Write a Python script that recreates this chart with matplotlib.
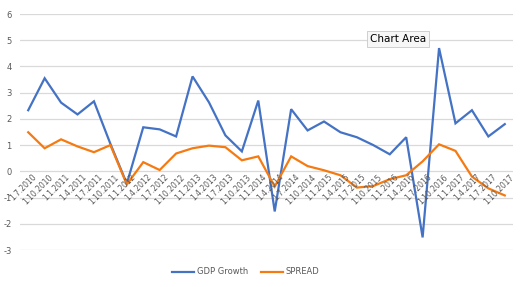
import matplotlib.pyplot as plt
from matplotlib.lines import Line2D

# Dati (trimestri dal 1.7.2010 al 1.10.2017)
dates = ['1.7.2010', '1.10.2010',
         '1.1.2011', '1.4.2011', '1.7.2011', '1.10.2011',
         '1.1.2012', '1.4.2012', '1.7.2012', '1.10.2012',
         '1.1.2013', '1.4.2013', '1.7.2013', '1.10.2013',
         '1.1.2014', '1.4.2014', '1.7.2014', '1.10.2014',
         '1.1.2015', '1.4.2015', '1.7.2015', '1.10.2015',
         '1.1.2016', '1.4.2016', '1.7.2016', '1.10.2016',
         '1.1.2017', '1.4.2017', '1.7.2017', '1.10.2017']
gdp_growth = [2.33, 3.55, 2.62, 2.17, 2.67, 1.05,
              -0.47, 1.68, 1.60, 1.33,
              3.62, 2.63, 1.37, 0.76,
              2.70, -1.53, 2.37, 1.56,
              1.90, 1.49, 1.30, 1.00,
              0.65, 1.30, -2.52, 4.70,
              1.83, 2.33, 1.33, 1.80]
spread = [1.49, 0.88, 1.22, 0.95, 0.73, 1.00,
          -0.50, 0.35, 0.05, 0.68,
          0.88, 0.98, 0.92, 0.42,
          0.57, -0.58, 0.57, 0.20,
          0.04, -0.15, -0.62, -0.56,
          -0.30, -0.15, 0.38, 1.03,
          0.78, -0.20, -0.65, -0.92]
y_ticks = [-3, -2, -1, 0, 1, 2, 3, 4, 5, 6]

blue = '#4472C4'
orange = '#F57A12'
grey = '#595959'

fig = plt.figure(figsize=(5.23, 2.87), dpi=100)
ax = fig.add_axes([20 / 523, 1 - 250 / 287, 493 / 523, 236 / 287])

x = range(len(dates))
ax.plot(x, gdp_growth, color=blue, lw=1.6, solid_joinstyle='miter')
ax.plot(x, spread, color=orange, lw=1.6, solid_joinstyle='miter')

ax.set_xlim(-0.5, len(dates) - 0.5)
ax.set_ylim(-3, 6)
ax.set_yticks(y_ticks)
ax.set_yticklabels([str(t) for t in y_ticks])
ax.tick_params(axis='y', length=0, labelsize=6, labelcolor=grey, pad=6)
ax.set_xticks([])
ax.grid(axis='y', color='#D9D9D9', lw=0.9)
ax.set_axisbelow(True)
for s in ax.spines.values():
    s.set_visible(False)

# etichette delle date ruotate, appese alla linea dello zero
for i, d in enumerate(dates):
    ax.text(i + 0.25, -0.05, d, rotation=45, ha='right', va='top',
            fontsize=5.5, color=grey, rotation_mode='anchor')

# legenda in basso al centro
handles = [Line2D([], [], color=blue, lw=1.6), Line2D([], [], color=orange, lw=1.6)]
fig.legend(handles, ['GDP Growth', 'SPREAD'], loc='center', bbox_to_anchor=(0.47, 1 - 272 / 287),
           ncol=2, frameon=False, fontsize=6, labelcolor=grey, handlelength=2.6,
           handletextpad=0.3, columnspacing=1.6)

# tooltip "Chart Area"
fig.text(398 / 523, 1 - 39 / 287, 'Chart Area', ha='center', va='center', fontsize=7.5, color='black',
         bbox=dict(boxstyle='square,pad=0.3', fc='#F7F7F7', ec='#C8C8C8', lw=0.6))

fig.savefig('out.png', dpi=100)
